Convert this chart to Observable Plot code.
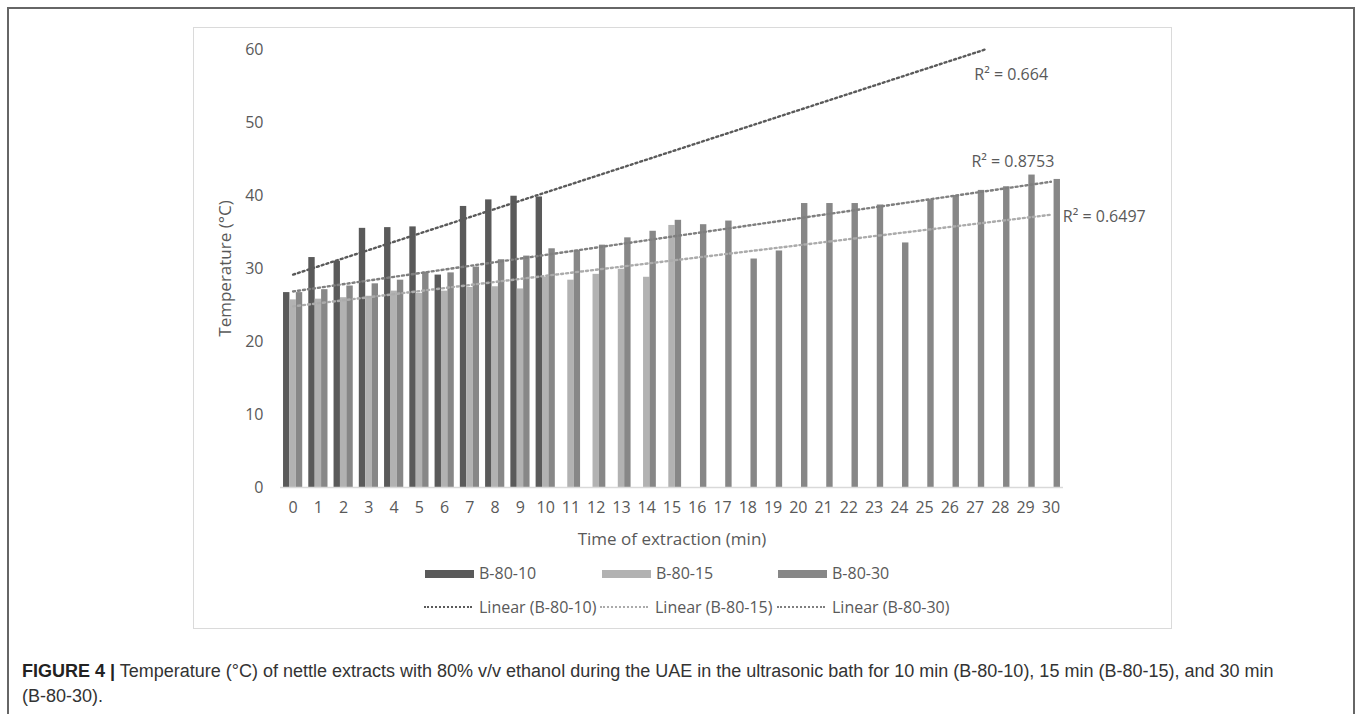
<!DOCTYPE html>
<html>
<head>
<meta charset="utf-8">
<script src="https://cdn.jsdelivr.net/npm/d3@7"></script>
<script src="https://cdn.jsdelivr.net/npm/@observablehq/plot@0.6"></script>
<style>
  html, body { margin: 0; padding: 0; background: #fff; overflow: hidden; }
  body { width: 1357px; height: 714px; position: relative; }
  #frame { position: absolute; left: 7px; top: 7px; width: 1348px; height: 760px;
           border: 2px solid #666; border-bottom: none; box-sizing: border-box; }
  #box { position: absolute; left: 193px; top: 27px; width: 979px; height: 602px;
         border: 1.5px solid #dadada; box-sizing: border-box; }
  #chart { position: absolute; left: 0; top: 0; }
  .leg { position: absolute; font-family: "Open Sans", sans-serif; font-size: 16px; color: #595959;
         white-space: nowrap; line-height: 20px; }
  .sw { position: absolute; height: 8px; }
  .dot { position: absolute; height: 0; border-top: 2.5px dotted; }
  #caption { position: absolute; left: 22px; top: 659px; width: 1300px;
             font-family: "Liberation Sans", Arial, sans-serif; font-size: 18px; line-height: 25px;
             color: #333; }
  #caption b { color: #222; }
  .nw { white-space: nowrap; }
</style>
</head>
<body>
<div id="frame"></div>
<div id="box"></div>
<div id="chart"></div>
<div id="legend"></div>
<div id="caption"><b>FIGURE 4 |</b> Temperature (°C) of nettle extracts with 80% v/v ethanol during the UAE in the ultrasonic bath for 10 min (B-80-10), 15 min (B-80-15), and 30 min <span class="nw">(B-80-30).</span></div>
<script>
// Extraction time (min) and measured temperatures (°C) for each run
const times = [0,1,2,3,4,5,6,7,8,9,10,11,12,13,14,15,16,17,18,19,20,21,22,23,24,25,26,27,28,29,30];
const yTicks = [0,10,20,30,40,50,60];
const seriesNames = ["B-80-10", "B-80-15", "B-80-30"];
const barColors = ["#5a5a5a", "#b2b2b2", "#878787"];
const trendColors = ["#5a5a5a", "#ababab", "#7f7f7f"];
const b10 = [26.7,31.5,31.0,35.5,35.6,35.7,29.1,38.5,39.4,39.9,39.8];
const b15 = [25.7,25.8,26.0,26.2,26.9,26.6,26.9,27.4,27.5,27.2,28.8,28.4,29.2,29.9,28.8,35.9];
const b30 = [26.7,27.1,27.6,27.9,28.4,29.5,29.4,30.2,31.2,31.7,32.7,32.5,33.2,34.2,35.1,36.6,36.0,36.5,31.3,32.4,38.9,38.9,38.9,38.7,33.5,39.4,40.0,40.7,41.2,42.8,42.2];
// R² of each linear trend, in series order
const r2Labels = ["R² = 0.664", "R² = 0.6497", "R² = 0.8753"];

const seriesValues = [b10, b15, b30];

// Long table for the clustered bars
const bars = [];
seriesValues.forEach((vals, k) => vals.forEach((v, i) => bars.push({t: times[i], v, k, series: seriesNames[k]})));

// Least-squares trend line per series, drawn across the whole time axis and clipped at the y maximum
const yMax = 60, tMax = times[times.length - 1];
const trends = [];
const trendEnds = [];
seriesValues.forEach((vals, k) => {
  const xs = vals.map((_, i) => times[i]);
  const mx = d3.mean(xs), my = d3.mean(vals);
  const m = d3.sum(xs, (x, i) => (x - mx) * (vals[i] - my)) / d3.sum(xs, x => (x - mx) ** 2);
  const b = my - m * mx;
  let tEnd = tMax;
  if (b + m * tEnd > yMax) tEnd = (yMax - b) / m;
  trends.push({t: 0, y: b, k, series: seriesNames[k]});
  trends.push({t: tEnd, y: b + m * tEnd, k, series: seriesNames[k]});
  trendEnds.push({t: tEnd, y: b + m * tEnd, k, label: r2Labels[k]});
});

const groupW = 0.76, barW = groupW / 3;

const chart = Plot.plot({
  width: 1357,
  height: 560,
  marginLeft: 280,
  marginRight: 294,
  marginTop: 49,
  marginBottom: 73,
  style: {fontFamily: "Open Sans, sans-serif", fontSize: "16px", color: "#595959", background: "transparent", overflow: "visible"},
  x: {domain: [-0.5, 30.5], ticks: times, tickFormat: d => String(d), tickSize: 0, tickPadding: 14,
      label: "Time of extraction (min)", labelAnchor: "center", labelArrow: "none", labelOffset: 57},
  y: {domain: [0, 60], ticks: yTicks, tickSize: 0, tickPadding: 17,
      label: "Temperature (°C)", labelAnchor: "center", labelArrow: "none", labelOffset: 62},
  color: {domain: seriesNames, range: barColors},
  marks: [
    Plot.rectY(bars, {
      x1: d => d.t - groupW / 2 + d.k * barW,
      x2: d => d.t - groupW / 2 + (d.k + 1) * barW,
      y: "v", fill: "series"
    }),
    Plot.ruleY([0], {stroke: "#d9d9d9", strokeWidth: 1.5}),
    ...[0, 1, 2].map(k => Plot.line(trends.filter(d => d.k === k), {
      x: "t", y: "y", stroke: trendColors[k], strokeWidth: 2.4, strokeDasharray: "2,3"
    })),
    Plot.text(trendEnds.filter(d => d.k === 0), {x: "t", y: "y", text: "label", dx: 26, dy: 25, fill: "#595959", fontSize: 16}),
    Plot.text(trendEnds.filter(d => d.k === 2), {x: "t", y: "y", text: "label", dx: -38, dy: -20, fill: "#595959", fontSize: 16}),
    Plot.text(trendEnds.filter(d => d.k === 1), {x: "t", y: "y", text: "label", dx: 12, dy: 2, textAnchor: "start", fill: "#595959", fontSize: 16})
  ]
});
// Axis titles a touch larger than the tick labels
chart.querySelectorAll("[aria-label$='axis label'] text, [aria-label='x-axis label'], [aria-label='y-axis label']").forEach(el => el.setAttribute("font-size", "17"));
document.getElementById("chart").appendChild(chart);

// Legend: bar swatches on the first row, dotted trend samples on the second
const legend = document.getElementById("legend");
const swX = [425, 602, 778];
const dotX = [424, 600, 777];
seriesNames.forEach((name, k) => {
  const sw = document.createElement("div");
  sw.className = "sw";
  sw.style.cssText = `left:${swX[k]}px;top:570px;width:49px;background:${barColors[k]}`;
  legend.appendChild(sw);
  const t = document.createElement("div");
  t.className = "leg";
  t.style.cssText = `left:${swX[k] + 54}px;top:563px`;
  t.textContent = name;
  legend.appendChild(t);

  const dl = document.createElement("div");
  dl.className = "dot";
  dl.style.cssText = `left:${dotX[k]}px;top:606px;width:48px;border-top-color:${trendColors[k]}`;
  legend.appendChild(dl);
  const t2 = document.createElement("div");
  t2.className = "leg";
  t2.style.cssText = `left:${dotX[k] + 55}px;top:597px`;
  t2.textContent = `Linear (${name})`;
  legend.appendChild(t2);
});
</script>
</body>
</html>
